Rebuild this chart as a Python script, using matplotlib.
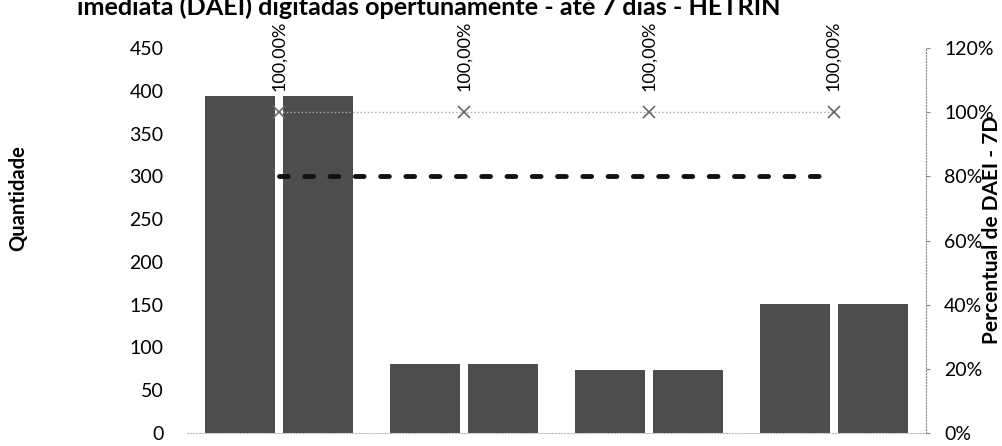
import numpy as np
import matplotlib.pyplot as plt
from matplotlib.ticker import PercentFormatter

plt.rcParams['font.family'] = ['Lato', 'DejaVu Sans']

# data (category names are cut off in the scan)
total_daei = [394, 81, 74, 151]
daei_7d = [394, 81, 74, 151]
percentual = [1.0, 1.0, 1.0, 1.0]
meta = [0.8, 0.8, 0.8, 0.8]
pct_labels = ['100,00%', '100,00%', '100,00%', '100,00%']
left_ticks = [0, 50, 100, 150, 200, 250, 300, 350, 400, 450]
right_ticks = [0, 0.2, 0.4, 0.6, 0.8, 1.0, 1.2]

W, H = 1002, 446
fig = plt.figure(figsize=(W / 100, H / 100), dpi=100)
ax = fig.add_axes([187 / W, 13 / H, 739 / W, 385 / H])

x = np.arange(len(total_daei))
w = 0.379
off = 0.211
bar_col = '#4d4d4d'
ax.bar(x - off, total_daei, w, color=bar_col)
ax.bar(x + off, daei_7d, w, color=bar_col)

ax.set_xlim(-0.5, 3.5)
ax.set_ylim(0, 450)
ax.set_yticks(left_ticks)
ax.set_xticks([])
ax.tick_params(axis='y', length=0, pad=17, labelsize=14)
for s in ['left', 'top', 'right']:
    ax.spines[s].set_visible(False)
ax.spines['bottom'].set_color('#bbbbbb')
ax.spines['bottom'].set_linestyle(':')

ax2 = ax.twinx()
ax2.set_ylim(0, 1.2)
ax2.set_yticks(right_ticks)
ax2.yaxis.set_major_formatter(PercentFormatter(1.0, decimals=0))
ax2.tick_params(axis='y', length=3, color='#888888', pad=10, labelsize=14)
for s in ['left', 'top', 'bottom']:
    ax2.spines[s].set_visible(False)
ax2.spines['right'].set_color('#888888')
ax2.spines['right'].set_linestyle(':')

ax2.plot(x, percentual, color='#aaaaaa', ls=':', lw=1,
         marker='x', ms=8, mec='#666666', mew=1.2)
ax2.plot(x, meta, color='#111111', lw=3.5, dashes=(1.8, 3.4),
         dash_capstyle='round')

for i in range(len(x)):
    ax2.annotate(pct_labels[i], (x[i], percentual[i]), xytext=(0, 15),
                 textcoords='offset points', rotation=90,
                 ha='center', va='bottom', fontsize=13)

title = fig.text(77 / W, 1 - 15 / H,
                 'imediata (DAEI) digitadas opertunamente - até 7 dias - HETRIN',
                 fontsize=16, fontweight='bold', ha='left', va='baseline')
fig.text(18 / W, 1 - 198 / H, 'Quantidade', rotation=90,
         fontsize=14.5, fontweight='bold', ha='center', va='center')
fig.text(992 / W, 1 - 230 / H, 'Percentual de DAEI - 7D', rotation=90,
         fontsize=15, fontweight='bold', ha='center', va='center')

# scale the title so it spans the same width as in the scan
fig.canvas.draw()
bb = title.get_window_extent()
title.set_fontsize(16 * 709 / bb.width)

fig.savefig('out.png', dpi=100)
